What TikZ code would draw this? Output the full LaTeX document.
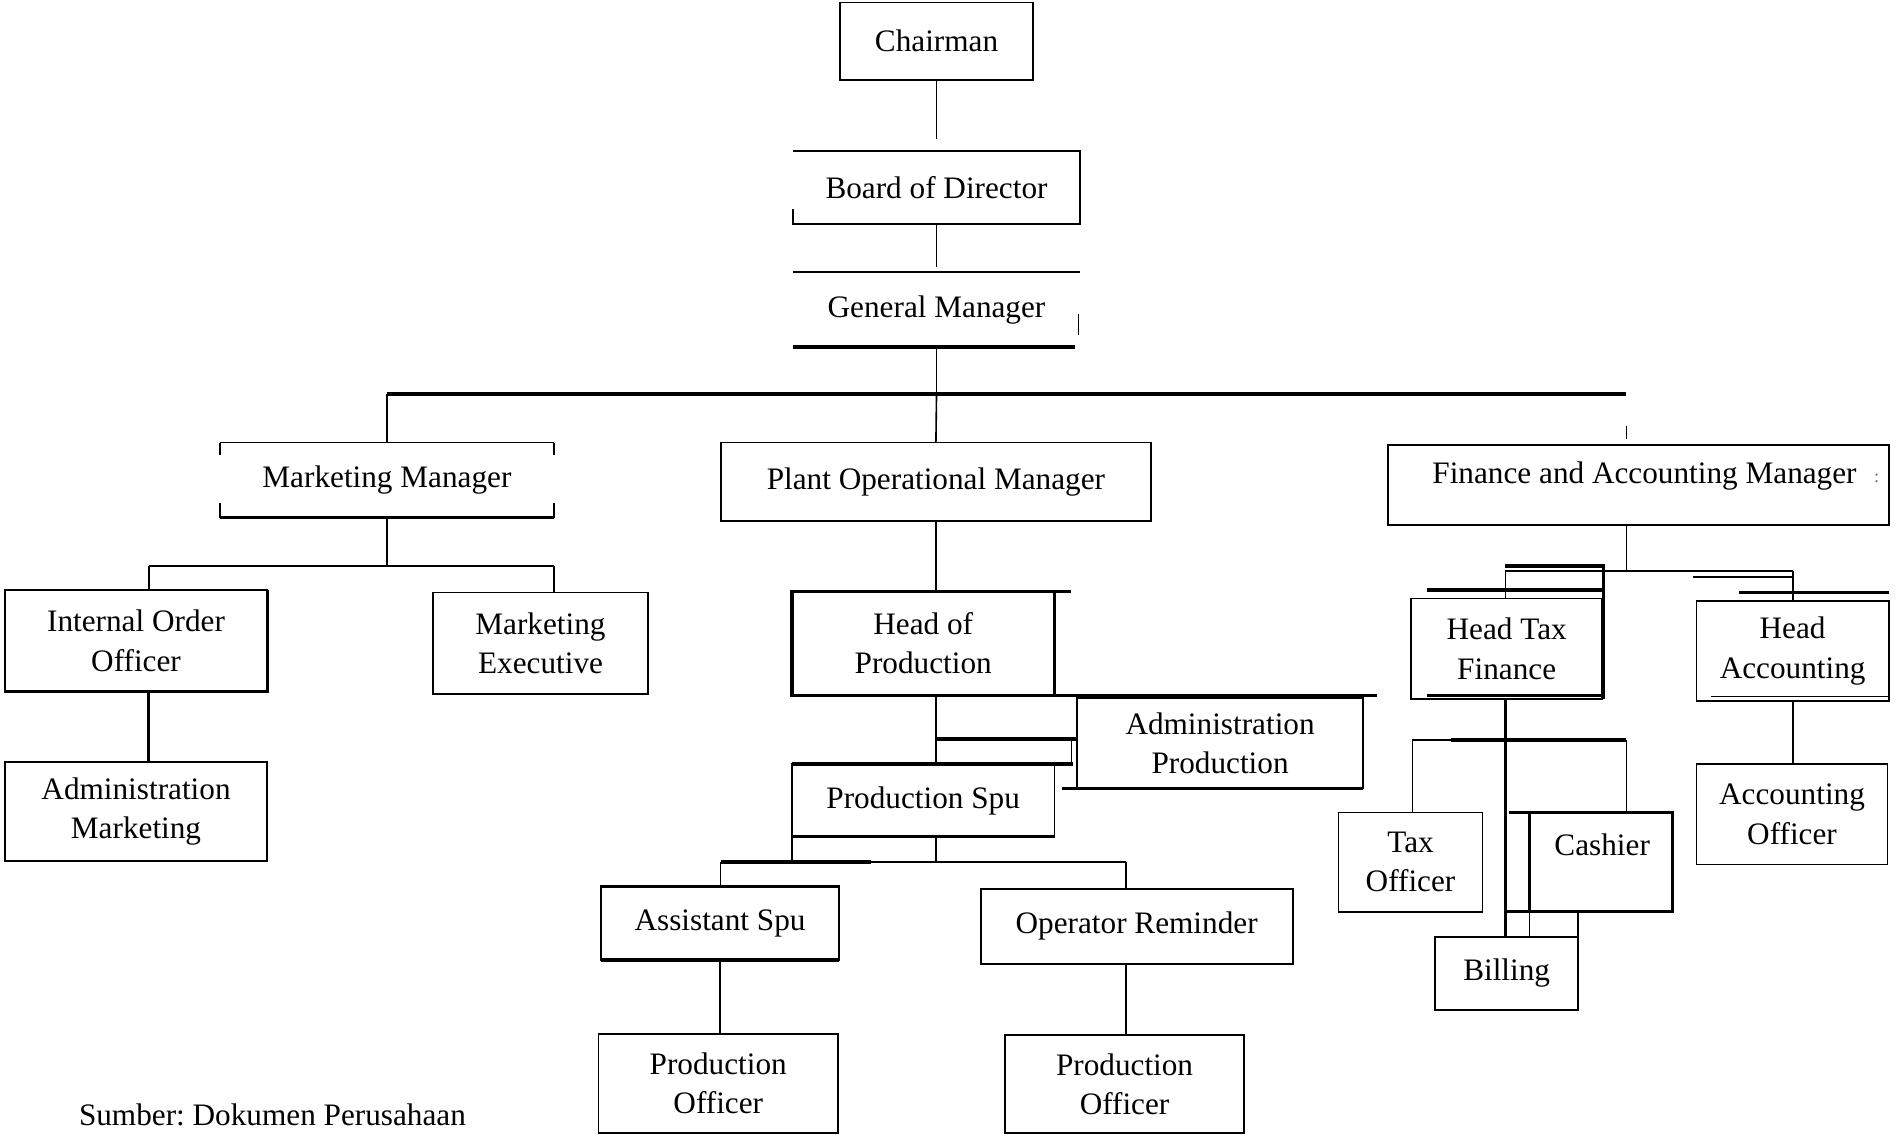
\documentclass[tikz,border=0pt]{standalone}
\usepackage{fontspec}
\setmainfont{Liberation Serif}
\frenchspacing
\newcommand\fs{\fontsize{15.5}{19.5}\selectfont}
\newcommand\OB[7]{\node[#6, minimum width={(#4-#2)*0.6pt}, minimum height={(#5-#3)*0.6pt}] (#1) at ({(#2+#4)/2},{(#3+#5)/2}) {#7};}
\tikzset{
  thinln/.style={line width=0.8pt},
  thickln/.style={line width=1.7pt},
  box/.style={draw, line width=0.9pt, inner sep=0pt, outer sep=0pt, align=center, font=\fs},
  boxthick/.style={box, line width=1.6pt},
  nobox/.style={inner sep=0pt, outer sep=0pt, align=center, font=\fs},
  txt/.style={inner sep=0pt, align=center, font=\fs}
}
\begin{document}
\begin{tikzpicture}[x=0.6pt,y=-0.6pt]
\useasboundingbox (0,0) rectangle (1568,938);
% ---------- top
\OB{ch}{695}{2}{854}{66}{box}{Chairman}
\OB{bod}{656}{125}{893}{185}{nobox}{Board of Director}
\draw[line width=0.9pt] (bod.south west) ++(0,-12) -- (bod.south west) -- (bod.south east) -- (bod.north east) -- (bod.north west);
\OB{gm}{656}{225}{893}{287}{nobox}{General Manager}
\draw[thinln] (gm.north west) -- (gm.north east);
\draw[thickln] (gm.south west) -- ++(233,0);
\draw[thinln] (892,260) -- (892,277);
\draw[thinln, shorten >=6pt] (ch.south) -- (bod.north);
\draw[thinln, shorten >=2.4pt] (bod.south) -- (gm.north);
% ---------- managers
\OB{mm}{182}{366}{458}{428}{nobox}{Marketing Manager}
\draw[thinln] (mm.north west) -- (mm.north east);
\draw[thickln] (mm.south west) -- (mm.south east);
\draw[thinln] (mm.north west) -- ++(0,10) (mm.north east) -- ++(0,10);
\draw[thinln] (mm.south west) -- ++(0,-12) (mm.south east) -- ++(0,-12);
\OB{pom}{596}{366}{952}{431}{box}{Plant Operational Manager}
\OB{fam}{1148}{368}{1562}{434}{box}{}
\node[txt] (famt) at (1360,394) {Finance and Accounting Manager};
\node[txt, font=\fontsize{9}{10}\selectfont, text=black!60] (famc) at (1552,396) {:};
\coordinate (jM) at (320,326);
\coordinate (jF) at (1345,326);
\draw[thickln] (jM) -- (jF);
\draw[thinln] (gm.south) -- (gm.south |- jM);
\draw[thinln] (jM) -- (mm.north);
\draw[thinln] (gm.south |- jM) -- (pom.north);
\draw[thinln] (1345,352) -- (1345,363);
% ---------- marketing
\OB{ioo}{4}{488}{221}{572}{box}{Internal Order\\Officer}
\draw[thickln] (ioo.north east) -- (ioo.south east) -- (ioo.south west);
\OB{me}{358}{490}{536}{574}{box}{Marketing\\Executive}
\OB{am}{4}{630}{221}{712}{box}{Administration\\Marketing}
\coordinate (mL) at (123,468);
\coordinate (mR) at (458,468);
\draw[thinln] (mm.south) -- (mm.south |- mL);
\draw[thinln] (mL) -- (mR);
\draw[thinln] (mL) -- (mL |- ioo.north);
\draw[thinln] (mR) -- (mR |- me.north);
\draw[thickln] (mL |- ioo.south) -- (mL |- am.north);
% ---------- plant
\OB{hop}{655}{489}{872}{575}{boxthick}{Head of\\Production}
\draw[thickln] (hop.north east) -- ++(14,0);
\draw[thickln] (hop.south east) -- ++(267,0);
\OB{ap}{891}{577}{1127}{652}{box}{Administration\\Production}
\draw[thickln] (ap.south west) -- ++(-13,0) (ap.south west) -- (ap.south east);
\OB{ps}{655}{632}{872}{692}{box}{Production Spu}
\draw[thickln] (ps.north west) -- ++(232,0);
\draw[thickln] (ps.south west) -- (ps.south east);
\coordinate (pj) at (774,611);
\coordinate (sj) at (774,713);
\draw[thinln] (pom.south) -- (pom.south |- hop.north);
\draw[thinln] (pom.south |- hop.south) -- (pom.south |- ps.north);
\draw[thickln] (pj) -- (pj -| ap.west);
\draw[thinln] (886,611) -- (886,632);
\OB{as}{497}{733}{694}{794}{box}{Assistant Spu}
\draw[thickln] (as.north west) -- (as.north east) (as.south west) -- (as.south east);
\OB{opr}{811}{735}{1069}{797}{box}{Operator Reminder}
\OB{poa}{495}{855}{693}{937}{box}{Production\\Officer}
\OB{pob}{831}{856}{1029}{937}{box}{Production\\Officer}
\coordinate (aj) at (596,713);
\coordinate (oj) at (931,713);
\draw[thinln] (pom.south |- ps.south) -- (sj);
\draw[thinln] (ps.south west) -- (ps.south west |- sj);
\draw[thickln] (aj) -- (720,713);
\draw[thinln] (720,713) -- (oj);
\draw[thinln] (aj) -- (aj |- as.north);
\draw[thinln] (oj) -- (oj |- opr.north);
\draw[thinln] (as.south) -- (as.south |- poa.north);
\draw[thinln] (oj |- opr.south) -- (oj |- pob.north);
% ---------- finance
\OB{htf}{1167}{495}{1325}{578}{box}{Head Tax\\Finance}
\OB{ha}{1403}{497}{1562}{580}{box}{Head\\Accounting}
\OB{ao}{1403}{632}{1561}{715}{box}{Accounting\\Officer}
\coordinate (fj) at (1345,472);
\coordinate (fL) at (1245,472);
\coordinate (fR) at (1483,472);
\draw[thinln] (fam.south -| fj) -- (fj);
\draw[thinln] (fL) -- (fR);
\draw[thinln] (fL) -- (fL |- htf.north);
\draw[thinln] (fR) -- (fR |- ha.north);
\draw[thickln] (fL |- 0,468) -- (1326,468) -- (1326,578);
\draw[thickln] (1180,488) -- (1326,488);
\draw[thickln] (1180,575) -- (1326,575);
\draw[thinln] (1400,477) -- (1483,477);
\draw[thickln] (1438,490) -- (1562,490);
\draw[thinln] (1415,576) -- (1562,576);
\draw[thinln] (fR |- ha.south) -- (fR |- ao.north);
\OB{tof}{1107}{672}{1226}{754}{box}{Tax\\Officer}
\OB{cas}{1265}{672}{1383}{754}{boxthick}{}
\node[txt] (cast) at (1325,699) {Cashier};
\OB{bil}{1187}{775}{1305}{835}{box}{Billing}
\coordinate (tL) at (1168,612);
\coordinate (tR) at (1345,612);
\draw[thickln] (fL |- htf.south) -- (fL |- bil.north);
\draw[thinln] (tL) -- (1200,612);
\draw[thickln] (1200,612) -- (tR);
\draw[thinln] (tL) -- (tL |- tof.north);
\draw[thinln] (tR) -- (tR |- cas.north);
\draw[thickln] (cas.north west) -- ++(-17,0);
\draw[thickln] (cas.south west) -- ++(-20,0);
\draw[thinln] (cas.south west) -- (cas.south west |- bil.north);
\draw[thinln] (bil.north east) -- (bil.north east |- cas.south);
% ---------- source
\node[txt, anchor=base west] (src) at (65,931) {Sumber: Dokumen Perusahaan};
\end{tikzpicture}
\end{document}
